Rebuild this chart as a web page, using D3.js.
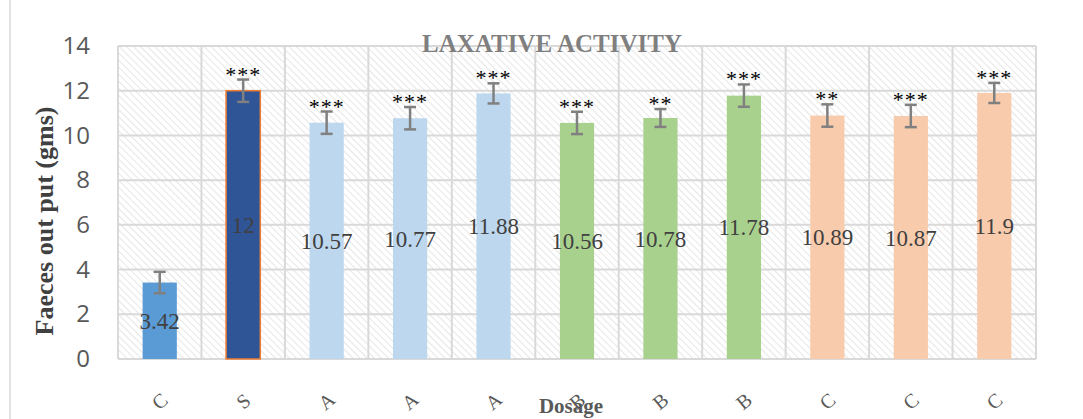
<!DOCTYPE html>
<html>
<head>
<meta charset="utf-8">
<script src="https://cdn.jsdelivr.net/npm/d3@7"></script>
<style>
  body { margin: 0; background: #fff; }
  svg { display: block; }
</style>
</head>
<body>
<div id="chart"></div>
<script>
const categories = ["C", "S", "A", "A", "A", "B", "B", "B", "C", "C", "C"];
const values = [3.42, 12, 10.57, 10.77, 11.88, 10.56, 10.78, 11.78, 10.89, 10.87, 11.9];
const errors = [0.48, 0.5, 0.5, 0.5, 0.45, 0.5, 0.4, 0.5, 0.5, 0.5, 0.45];
const stars = ["", "***", "***", "***", "***", "***", "**", "***", "**", "***", "***"];
const yTicks = [0, 2, 4, 6, 8, 10, 12, 14];

const barColors = ["#5b9bd5", "#2f5597", "#bdd7ee", "#bdd7ee", "#bdd7ee",
  "#a9d18e", "#a9d18e", "#a9d18e", "#f8cbad", "#f8cbad", "#f8cbad"];

const svgWidth = 1083;
const svgHeight = 419;
const margin = { top: 46, right: 47, bottom: 60, left: 118 };
const width = svgWidth - margin.left - margin.right;
const height = svgHeight - margin.top - margin.bottom;

const root = d3.select("#chart")
  .append("svg")
  .attr("width", svgWidth)
  .attr("height", svgHeight);

// hatch pattern for the plot area
const defs = root.append("defs");
const pat = defs.append("pattern")
  .attr("id", "hatch")
  .attr("patternUnits", "userSpaceOnUse")
  .attr("width", 5)
  .attr("height", 5)
  .attr("patternTransform", "rotate(-45)");
pat.append("rect").attr("width", 5).attr("height", 5).attr("fill", "#fff");
pat.append("line")
  .attr("x1", 0).attr("y1", 0).attr("x2", 0).attr("y2", 5)
  .attr("stroke", "#e6e6e6").attr("stroke-width", 2);

// chart border
root.append("rect")
  .attr("x", 10).attr("y", -2)
  .attr("width", svgWidth - 8).attr("height", svgHeight + 4)
  .attr("fill", "none")
  .attr("stroke", "#d9d9d9")
  .attr("stroke-width", 1.5);

const svg = root.append("g")
  .attr("transform", `translate(${margin.left},${margin.top})`);

const x = d3.scaleBand()
  .domain(d3.range(categories.length))
  .range([0, width])
  .paddingInner(0.59)
  .paddingOuter(0.295);

const step = x.step();

const y = d3.scaleLinear()
  .domain([0, 14])
  .range([height, 0]);

svg.append("rect")
  .attr("width", width)
  .attr("height", height)
  .attr("fill", "url(#hatch)");

// gridlines
svg.append("g")
  .selectAll("line")
  .data(yTicks)
  .enter()
  .append("line")
  .attr("x1", 0).attr("x2", width)
  .attr("y1", d => y(d)).attr("y2", d => y(d))
  .attr("stroke", "#d9d9d9")
  .attr("stroke-width", 2);

svg.append("g")
  .selectAll("line")
  .data(d3.range(categories.length + 1))
  .enter()
  .append("line")
  .attr("x1", d => d * step).attr("x2", d => d * step)
  .attr("y1", 0).attr("y2", height)
  .attr("stroke", "#d9d9d9")
  .attr("stroke-width", 2);

// bars
svg.append("g")
  .selectAll("rect")
  .data(values)
  .enter()
  .append("rect")
  .attr("x", (d, i) => x(i))
  .attr("y", d => y(d))
  .attr("width", x.bandwidth())
  .attr("height", d => height - y(d))
  .attr("fill", (d, i) => barColors[i])
  .attr("stroke", (d, i) => i === 1 ? "#ed7d31" : "none")
  .attr("stroke-width", 1.5);

// value labels
svg.append("g")
  .selectAll("text")
  .data(values)
  .enter()
  .append("text")
  .attr("x", (d, i) => x(i) + x.bandwidth() / 2)
  .attr("y", d => y(d / 2))
  .attr("dy", "0.35em")
  .attr("text-anchor", "middle")
  .style("font-family", "'Liberation Serif', serif")
  .style("font-size", "23px")
  .style("fill", "#404040")
  .text(d => d);

// error bars
const eb = svg.append("g")
  .selectAll("g")
  .data(values)
  .enter()
  .append("g")
  .attr("stroke", "#808080")
  .attr("stroke-width", 2.5);

eb.append("line")
  .attr("x1", (d, i) => x(i) + x.bandwidth() / 2)
  .attr("x2", (d, i) => x(i) + x.bandwidth() / 2)
  .attr("y1", (d, i) => y(d + errors[i]))
  .attr("y2", (d, i) => y(d - errors[i]));
eb.append("line")
  .attr("x1", (d, i) => x(i) + x.bandwidth() / 2 - 6)
  .attr("x2", (d, i) => x(i) + x.bandwidth() / 2 + 6)
  .attr("y1", (d, i) => y(d + errors[i]))
  .attr("y2", (d, i) => y(d + errors[i]));
eb.append("line")
  .attr("x1", (d, i) => x(i) + x.bandwidth() / 2 - 6)
  .attr("x2", (d, i) => x(i) + x.bandwidth() / 2 + 6)
  .attr("y1", (d, i) => y(d - errors[i]))
  .attr("y2", (d, i) => y(d - errors[i]));

// significance stars
svg.append("g")
  .selectAll("text")
  .data(values)
  .enter()
  .append("text")
  .attr("x", (d, i) => x(i) + x.bandwidth() / 2)
  .attr("y", (d, i) => y(d + errors[i]) + 2)
  .attr("text-anchor", "middle")
  .style("font-family", "'Liberation Serif', serif")
  .style("font-size", "22px")
  .style("letter-spacing", "1px")
  .style("fill", "#000")
  .text((d, i) => stars[i]);

// y axis
const yAxis = svg.append("g")
  .call(d3.axisLeft(y).tickValues(yTicks).tickSize(0).tickPadding(28));
yAxis.select(".domain").remove();
yAxis.selectAll("text")
  .style("font-family", "'Open Sans', 'Liberation Sans', sans-serif")
  .style("font-size", "24px")
  .style("fill", "#595959");

// x axis
const xAxis = svg.append("g")
  .attr("transform", `translate(0,${height})`)
  .call(d3.axisBottom(x).tickFormat(i => categories[i]).tickSize(0).tickPadding(0));
xAxis.select(".domain").remove();
xAxis.selectAll("text")
  .attr("transform", "translate(0,42) rotate(-40)")
  .attr("dy", "0.35em")
  .style("text-anchor", "middle")
  .style("font-family", "'Liberation Serif', serif")
  .style("font-size", "20px")
  .style("fill", "#595959");

// titles
root.append("text")
  .attr("x", 552)
  .attr("y", 52)
  .attr("text-anchor", "middle")
  .style("font-family", "'Liberation Serif', serif")
  .style("font-weight", "bold")
  .style("font-size", "25px")
  .style("fill", "#7f7f7f")
  .text("LAXATIVE ACTIVITY");

root.append("text")
  .attr("transform", "translate(53,221) rotate(-90)")
  .attr("text-anchor", "middle")
  .style("font-family", "'Liberation Serif', serif")
  .style("font-weight", "bold")
  .style("font-size", "26px")
  .style("fill", "#404040")
  .text("Faeces out put (gms)");

root.append("text")
  .attr("x", 571)
  .attr("y", 413)
  .attr("text-anchor", "middle")
  .style("font-family", "'Liberation Serif', serif")
  .style("font-weight", "bold")
  .style("font-size", "21px")
  .style("fill", "#595959")
  .text("Dosage");
</script>
</body>
</html>
